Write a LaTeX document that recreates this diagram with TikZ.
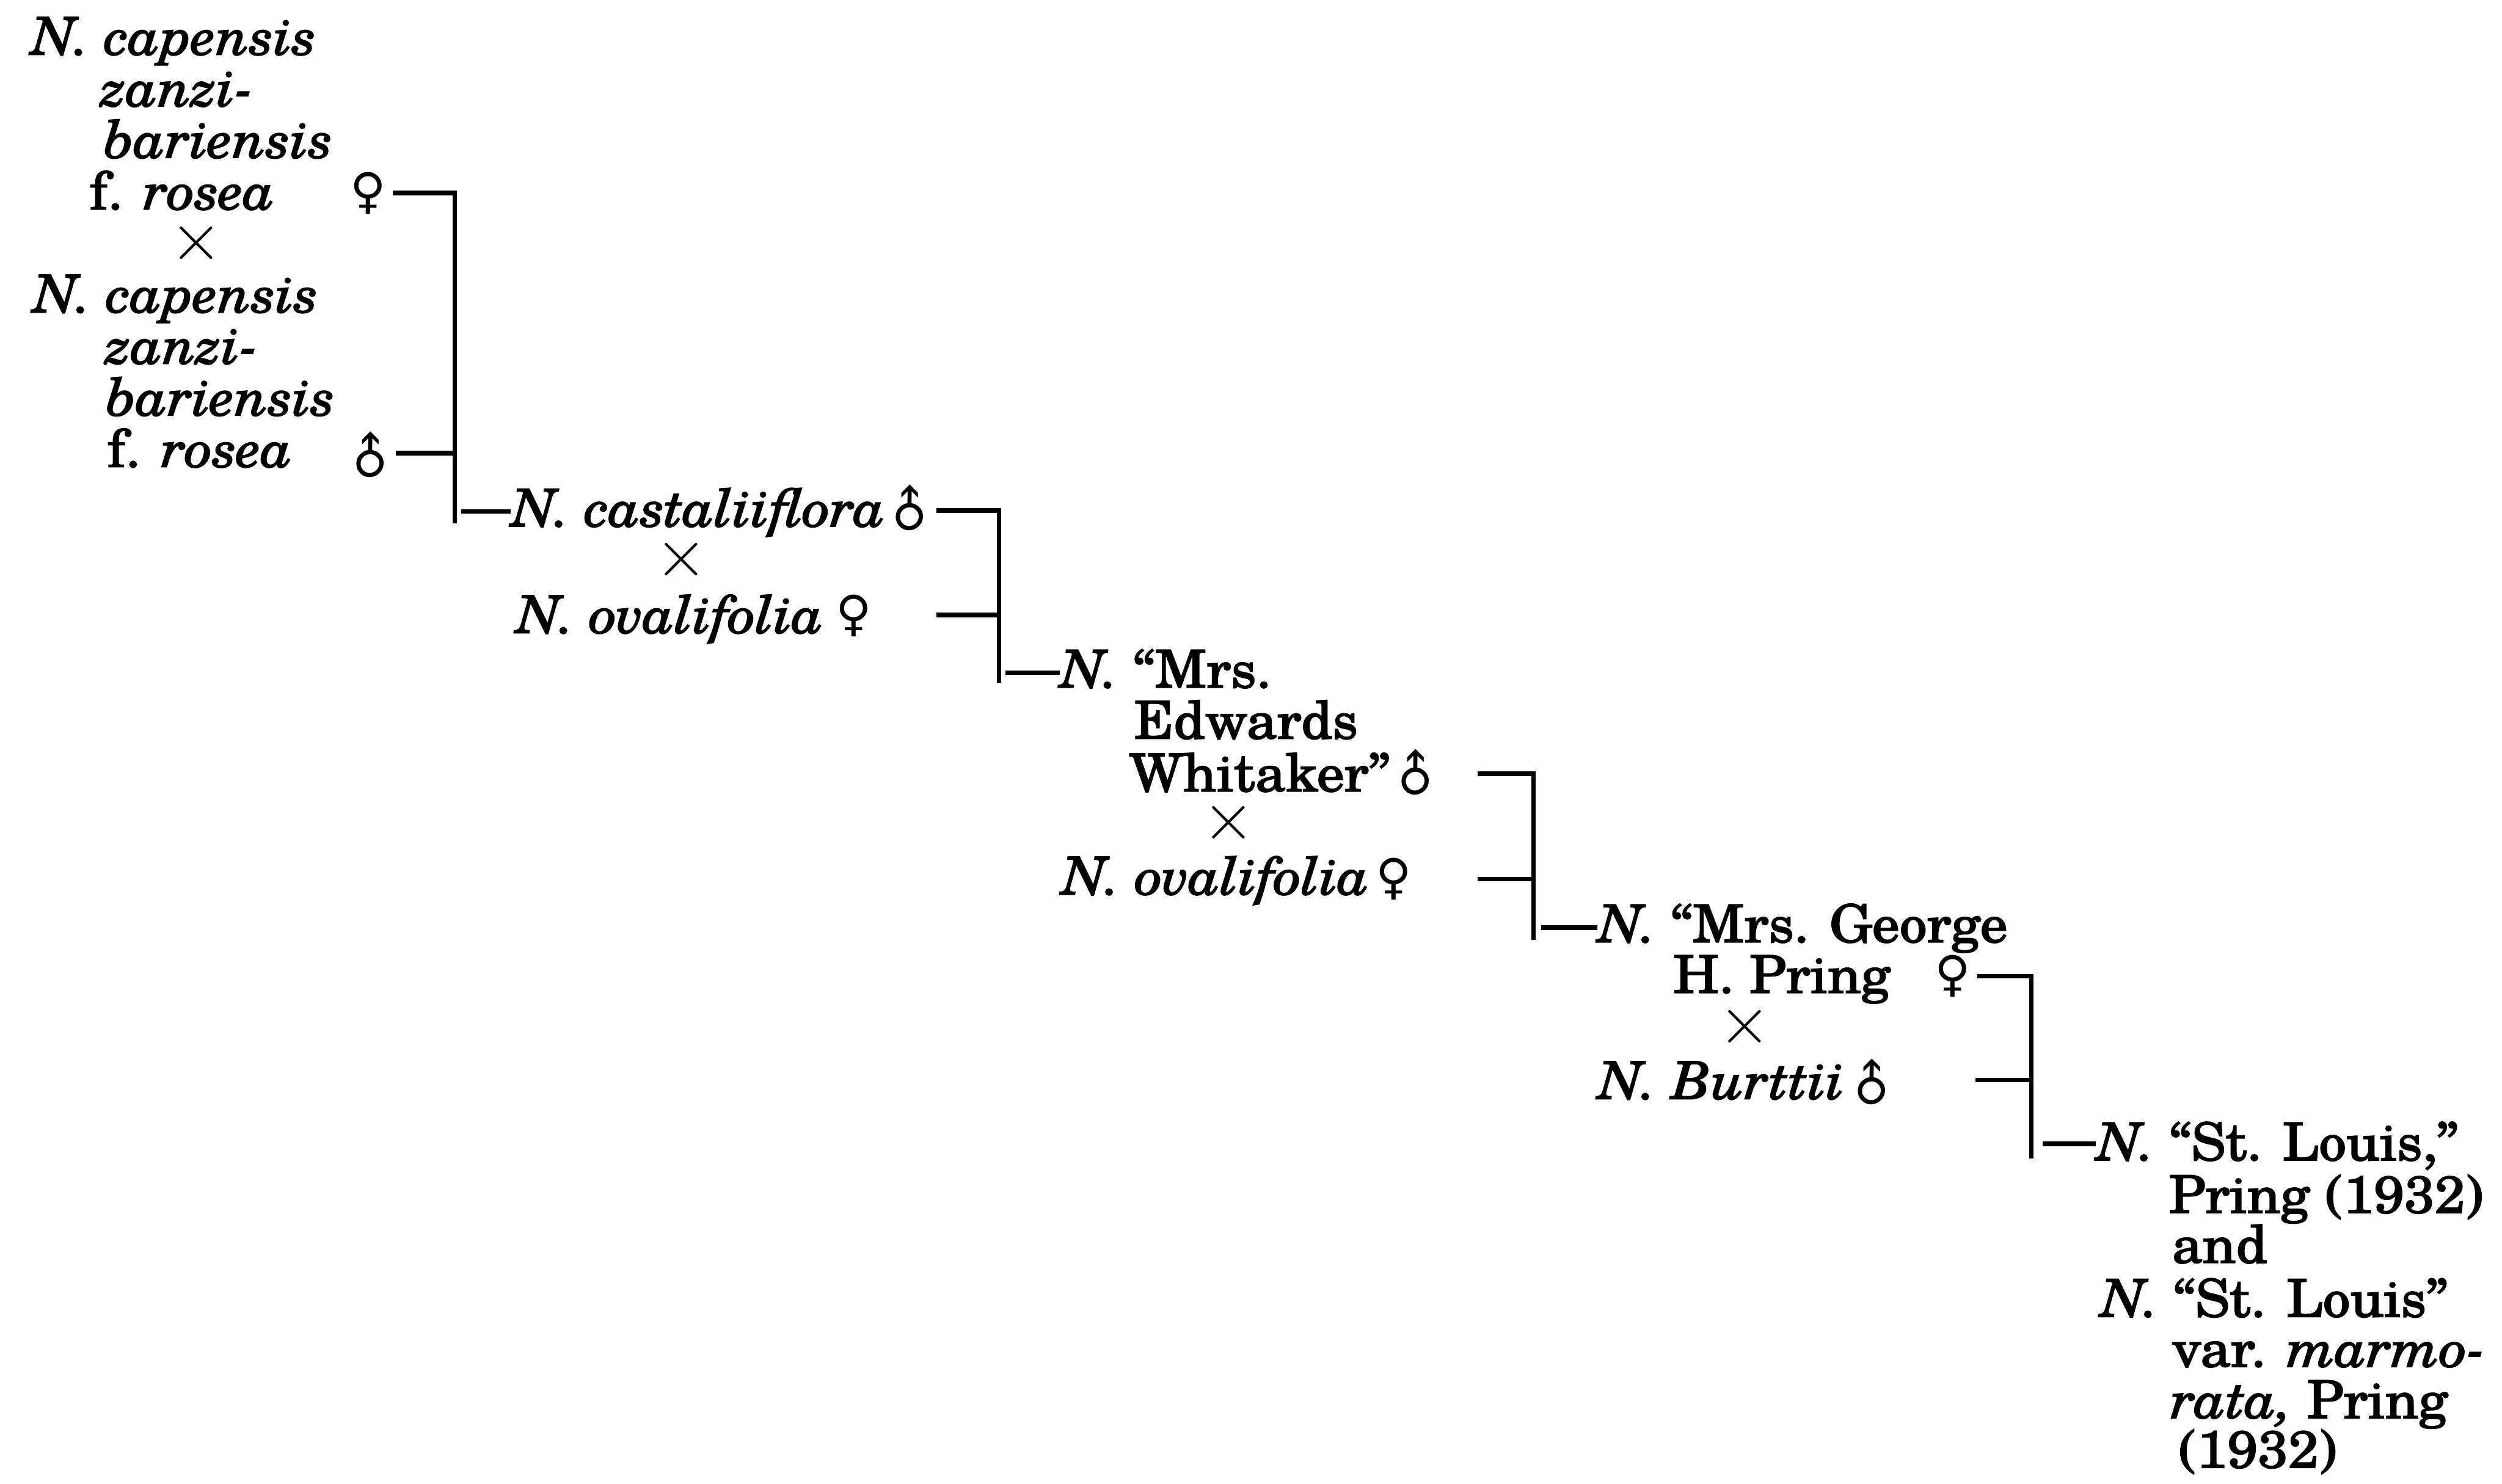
\documentclass[tikz,border=0pt]{standalone}
\usepackage{fontspec}
\setmainfont{TeX Gyre Schola}[FakeStretch=1.05, FakeBold=2]
\newfontfamily\symfont{DejaVu Sans}
\newcommand\lblsize{\fontsize{9.3}{10}\selectfont}
\newcommand\male{\rotatebox[origin=c]{45}{♂}}
\newcommand\female{♀}
% the cross sign is set with no height, centred on its own math axis
\newcommand\crosssign{\smash{\raisebox{-2.9pt}{$\times$}}}
\tikzset{
  txt/.style={inner sep=0pt, anchor=base west, font=\lblsize},
  sex/.style={inner sep=0pt, anchor=center, font=\symfont\fontsize{8.7}{9}\selectfont},
  cross/.style={inner sep=0pt, anchor=center, font=\fontsize{11.5}{12}\selectfont},
  link/.style={line width=0.8pt, line cap=butt}
}
\begin{document}
\begin{tikzpicture}[x=0.01cm, y=-0.01cm]
  \useasboundingbox (0,0) rectangle (1568,930);

  % first cross: N. capensis zanzibariensis f. rosea, female x male
  \node[txt] (p1a) at (19,34.3)    {\textit{N. capensis}};
  \node[txt] (p1b) at (62.6,66.6)  {\textit{zanzi-}};
  \node[txt] (p1c) at (64.2,98.9)  {\textit{bariensis}};
  \node[txt] (p1d) at (55.5,131.2) {f. \textit{rosea}};
  \node[sex] (p1s) at (230.7,121)  {\female};
  \node[cross] (x1) at (123,152.5) {\crosssign};
  \node[txt] (p2a) at (20.2,195.8) {\textit{N. capensis}};
  \node[txt] (p2b) at (65.6,228)   {\textit{zanzi-}};
  \node[txt] (p2c) at (65.6,260.4) {\textit{bariensis}};
  \node[txt] (p2d) at (66.6,292.7) {f. \textit{rosea}};
  \node[sex] (p2s) at (232,286.7)  {\male};

  % second cross: N. castaliiflora x N. ovalifolia
  \node[txt] (q1) at (320,330)     {\textit{N. castaliiflora}};
  \node[sex] (q1s) at (570,320)    {\male};
  \node[cross] (x2) at (427,351)   {\crosssign};
  \node[txt] (q2) at (323,396.8)   {\textit{N. ovalifolia}};
  \node[sex] (q2s) at (535,386)    {\female};

  % third cross: N. "Mrs. Edwards Whitaker" x N. ovalifolia
  \node[txt] (r1) at (664,431)     {\textit{N.} “Mrs.};
  \node[txt] (r2) at (710,463)     {Edwards};
  \node[txt] (r3) at (707,496)     {Whitaker”};
  \node[sex] (r3s) at (887,486)    {\male};
  \node[cross] (x3) at (770,516)   {\crosssign};
  \node[txt] (r4) at (665,560.7)   {\textit{N. ovalifolia}};
  \node[sex] (r4s) at (873.5,551)  {\female};

  % fourth cross: N. "Mrs. George H. Pring" x N. Burttii
  \node[txt] (s1) at (1001,590.6)  {\textit{N.} “Mrs. George};
  \node[txt] (s2) at (1048,622.4)  {H. Pring};
  \node[sex] (s2s) at (1223.6,612) {\female};
  \node[cross] (x4) at (1093.6,644) {\crosssign};
  \node[txt] (s3) at (1001,688.9)  {\textit{N. Burttii}};
  \node[sex] (s3s) at (1173,680)   {\male};

  % offspring
  \node[txt] (t1) at (1313.5,727.3) {\textit{N.} “St. Louis,”};
  \node[txt] (t2) at (1358.5,760.3) {Pring (1932)};
  \node[txt] (t3) at (1360.5,791.6) {and};
  \node[txt] (t4) at (1316,825.4)   {\textit{N.} “St. Louis”};
  \node[txt] (t5) at (1360.5,856.7) {var. \textit{marmo-}};
  \node[txt] (t6) at (1359.7,888.9) {\textit{rata,} Pring};
  \node[txt] (t7) at (1364.6,920)   {(1932)};

  % brackets
  \coordinate (b1t) at (285,121);   \coordinate (b1b) at (285,328);
  \coordinate (b2t) at (626,320);   \coordinate (b2b) at (626,428);
  \coordinate (b3t) at (961,485);   \coordinate (b3b) at (961,589);
  \coordinate (b4t) at (1273,612);  \coordinate (b4b) at (1273,726);

  % dash starts beside the parents' sex signs
  \coordinate (d11) at (246,121);   \coordinate (d12) at (248,284);
  \coordinate (d21) at (587,320);   \coordinate (d22) at (587,385.5);
  \coordinate (d31) at (926,485);   \coordinate (d32) at (926,551);
  \coordinate (d41) at (1239,612);  \coordinate (d42) at (1238,677);

  % dash starts on the brackets, leading to the offspring
  \coordinate (c1) at (289,320.5);
  \coordinate (c2) at (630,421.6);
  \coordinate (c3) at (966,581.5);
  \coordinate (c4) at (1280,717);

  \draw[link] (d11) -- (b1t) -- (b1b);
  \draw[link] (d12) -- (d12 -| b1t);
  \draw[link] (d21) -- (b2t) -- (b2b);
  \draw[link] (d22) -- (d22 -| b2t);
  \draw[link] (d31) -- (b3t) -- (b3b);
  \draw[link] (d32) -- (d32 -| b3t);
  \draw[link] (d41) -- (b4t) -- (b4b);
  \draw[link] (d42) -- (d42 -| b4t);

  \draw[link] (c1) -- (c1 -| q1.base west);
  \draw[link] (c2) -- (c2 -| r1.base west);
  \draw[link] (c3) -- (c3 -| s1.base west);
  \draw[link] (c4) -- (c4 -| t1.base west);
\end{tikzpicture}
\end{document}
